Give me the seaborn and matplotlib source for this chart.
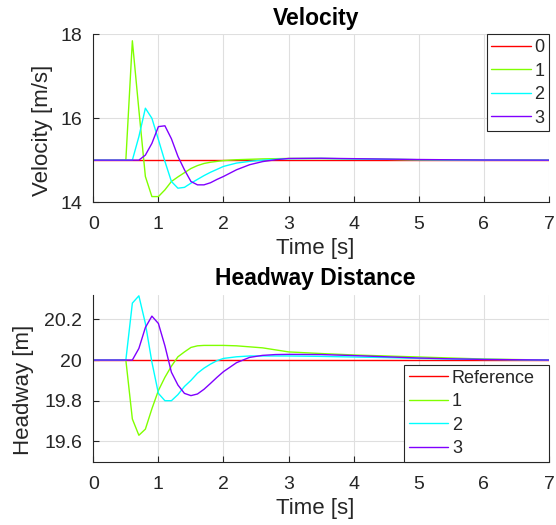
import matplotlib
matplotlib.use("Agg")
import matplotlib.pyplot as plt
import numpy as np
import pandas as pd
import seaborn as sns
from matplotlib.ticker import FuncFormatter

# ---------------- data ----------------
time = [0, 0.5, 0.6, 0.7, 0.8, 0.9, 1.0, 1.1, 1.2, 1.3, 1.4, 1.5, 1.6, 1.7, 1.8, 1.9,
        2.0, 2.2, 2.4, 2.6, 2.8, 3.0, 3.5, 4.0, 4.5, 5.0, 5.5, 6.0, 7.0]

vel_0 = [15.0] * len(time)
vel_1 = [15.0, 15.0, 17.85, 16.2, 14.61, 14.13, 14.13, 14.29, 14.49, 14.6, 14.7, 14.8, 14.87, 14.92, 14.95, 14.97,
         14.99, 15.01, 15.02, 15.03, 15.035, 15.04, 15.04, 15.03, 15.02, 15.01, 15.005, 15.0, 15.0]
vel_2 = [15.0, 15.0, 15.0, 15.56, 16.24, 16.0, 15.49, 14.97, 14.49, 14.33, 14.35, 14.45, 14.54, 14.63, 14.71, 14.78,
         14.85, 14.93, 14.97, 15.0, 15.02, 15.035, 15.04, 15.03, 15.02, 15.01, 15.005, 15.002, 15.0]
vel_3 = [15.0, 15.0, 15.0, 15.0, 15.12, 15.4, 15.8, 15.82, 15.51, 15.09, 14.77, 14.49, 14.41, 14.41, 14.46, 14.54,
         14.61, 14.77, 14.89, 14.965, 15.01, 15.04, 15.045, 15.035, 15.025, 15.015, 15.008, 15.003, 15.0]

head_ref = [20.0] * len(time)
head_1 = [20.0, 20.0, 19.71, 19.63, 19.66, 19.76, 19.85, 19.915, 19.97, 20.016, 20.04, 20.062, 20.07, 20.072, 20.072, 20.072,
          20.072, 20.07, 20.065, 20.06, 20.05, 20.04, 20.032, 20.025, 20.02, 20.015, 20.01, 20.005, 20.0]
head_2 = [20.0, 20.0, 20.28, 20.316, 20.18, 19.99, 19.836, 19.80, 19.80, 19.83, 19.87, 19.90, 19.935, 19.96, 19.98, 19.997,
          20.008, 20.016, 20.02, 20.02, 20.02, 20.02, 20.018, 20.015, 20.012, 20.008, 20.005, 20.003, 20.0]
head_3 = [20.0, 20.0, 20.0, 20.057, 20.16, 20.216, 20.18, 20.07, 19.94, 19.877, 19.836, 19.825, 19.833, 19.856, 19.885, 19.915,
          19.943, 19.987, 20.013, 20.023, 20.027, 20.028, 20.027, 20.022, 20.016, 20.01, 20.006, 20.003, 20.0]

vel_labels = ["0", "1", "2", "3"]
head_labels = ["Reference", "1", "2", "3"]
colors = ["#ff0000", "#80ff00", "#00ffff", "#8000ff"]

vel_df = pd.concat([pd.DataFrame({"Time": time, "Velocity": v, "Series": lab})
                    for v, lab in zip([vel_0, vel_1, vel_2, vel_3], vel_labels)], ignore_index=True)
head_df = pd.concat([pd.DataFrame({"Time": time, "Headway": h, "Series": lab})
                     for h, lab in zip([head_ref, head_1, head_2, head_3], head_labels)], ignore_index=True)

# ---------------- style ----------------
sns.set_theme(style="white")
plt.rcParams["font.family"] = ["Liberation Sans", "DejaVu Sans"]
axis_col = "#262626"

fig = plt.figure(figsize=(5.56, 5.25), dpi=100)
ax1 = fig.add_axes([0.1678, 0.6152, 0.8196, 0.3191])
ax2 = fig.add_axes([0.1678, 0.1206, 0.8196, 0.3175])

sns.lineplot(data=vel_df, x="Time", y="Velocity", hue="Series", hue_order=vel_labels,
             palette=colors, estimator=None, sort=False, linewidth=1.0, ax=ax1)
sns.lineplot(data=head_df, x="Time", y="Headway", hue="Series", hue_order=head_labels,
             palette=colors, estimator=None, sort=False, linewidth=1.0, ax=ax2)

def style(ax, title, ylabel, ylim, yticks, ylab_x):
    ax.set_xlim(0, 7)
    ax.set_ylim(*ylim)
    ax.set_xticks(range(8))
    ax.set_yticks(yticks)
    ax.yaxis.set_major_formatter(FuncFormatter(lambda v, p: f"{v:g}"))
    ax.grid(True, color="#dfdfdf", linewidth=0.8)
    ax.set_axisbelow(True)
    for s in ["top", "right"]:
        ax.spines[s].set_visible(False)
    for s in ["left", "bottom"]:
        ax.spines[s].set_color(axis_col)
        ax.spines[s].set_linewidth(0.8)
    ax.tick_params(direction="in", length=4, width=0.8, color=axis_col,
                   labelcolor=axis_col, labelsize=14, left=True, bottom=True)
    ax.tick_params(axis="x", pad=10)
    ax.tick_params(axis="y", pad=8)
    ax.set_title(title, fontsize=16.5, fontweight="bold", pad=7, color="black", x=0.488)
    ax.set_xlabel("Time [s]", fontsize=16, color=axis_col, labelpad=4)
    ax.xaxis.label.set_x(0.488)
    ax.set_ylabel(ylabel, fontsize=16, color=axis_col)
    ax.yaxis.set_label_coords(ylab_x, 0.43)

style(ax1, "Velocity", "Velocity [m/s]", (14, 18), [14, 16, 18], -0.088)
style(ax2, "Headway Distance", "Headway [m]", (19.5, 20.32), [19.6, 19.8, 20.0, 20.2], -0.131)

leg_kw = dict(title=None, frameon=True, fancybox=False, framealpha=1, edgecolor=axis_col,
              fontsize=13, borderaxespad=0, handlelength=2.2, handletextpad=0.2,
              labelspacing=0.36, borderpad=0.25)
sns.move_legend(ax1, "upper right", **leg_kw)
sns.move_legend(ax2, "lower right", bbox_to_anchor=(0.682, 0.0, 0.318, 0.5), mode="expand", **leg_kw)
for ax in (ax1, ax2):
    ax.get_legend().get_frame().set_linewidth(0.8)

fig.savefig("out.png", dpi=100)
